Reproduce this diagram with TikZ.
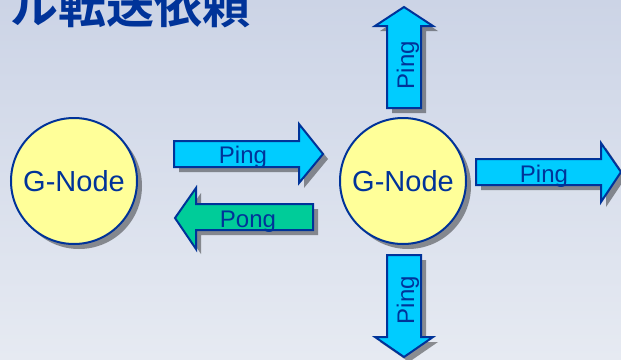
\documentclass[tikz,border=0pt]{standalone}
\usepackage{fontspec}
\setmainfont{Liberation Sans}
\newfontfamily\cjk{Noto Sans CJK JP Bold}
\usetikzlibrary{shadows}
\definecolor{bgtop}{RGB}{204,212,230}
\definecolor{bgmid}{RGB}{210,217,233}
\definecolor{bgbot}{RGB}{230,234,242}
\definecolor{navy}{RGB}{0,51,153}
\definecolor{nodeyellow}{RGB}{255,255,153}
\definecolor{pingcyan}{RGB}{0,204,255}
\definecolor{ponggreen}{RGB}{0,204,153}
\tikzset{
  softshadow/.style={drop shadow={shadow xshift=5pt, shadow yshift=-5pt, fill=black, opacity=0.4}},
  gnode/.style={circle, draw=navy, line width=2pt, fill=nodeyellow, minimum size=126pt, inner sep=0pt,
    text=navy, font=\fontsize{29}{29}\selectfont, softshadow},
  blockarrow/.style={draw=navy, line width=2pt, line join=miter, softshadow},
  arrowlabel/.style={text=navy, font=\fontsize{24}{24}\selectfont, inner sep=0pt, anchor=base}
}
\begin{document}
\begin{tikzpicture}[x=1pt, y=-1pt]
  \useasboundingbox (0,0) rectangle (621,359);
  % background
  \shade[top color=bgtop, middle color=bgmid, bottom color=bgbot] (0,0) rectangle (621,359);
  \node[anchor=base west, text=navy, inner sep=0pt, font=\cjk\fontsize{48}{48}\selectfont] (title) at (10,23) {ル転送依頼};

  % nodes
  \node[gnode] (left) at (74,181) {G-Node};
  \node[gnode] (right) at (403,181) {G-Node};

  % ping / pong between the two nodes
  \filldraw[blockarrow, fill=pingcyan] (174,141) -- (299,141) -- (299,124) -- (323,154) -- (299,183) -- (299,167) -- (174,167) -- cycle;
  \node[arrowlabel] (ping) at (243,163) {Ping};
  \filldraw[blockarrow, fill=ponggreen] (313,204) -- (196,204) -- (196,188) -- (175,218) -- (196,249) -- (196,230) -- (313,230) -- cycle;
  \node[arrowlabel] (pong) at (248,227) {Pong};

  % ping forwarded by the right node
  \filldraw[blockarrow, fill=pingcyan] (387,108) -- (387,26) -- (375,26) -- (404,7) -- (433,26) -- (421,26) -- (421,108) -- cycle;
  \node[arrowlabel, rotate=90] (pingup) at (414,65) {Ping};
  \filldraw[blockarrow, fill=pingcyan] (476,159) -- (601,159) -- (601,143) -- (621,172) -- (601,202) -- (601,185) -- (476,185) -- cycle;
  \node[arrowlabel] (pingright) at (544,182) {Ping};
  \filldraw[blockarrow, fill=pingcyan] (387,255) -- (387,337) -- (375,337) -- (404,357) -- (433,337) -- (421,337) -- (421,255) -- cycle;
  \node[arrowlabel, rotate=90] (pingdown) at (414,300) {Ping};
\end{tikzpicture}
\end{document}
